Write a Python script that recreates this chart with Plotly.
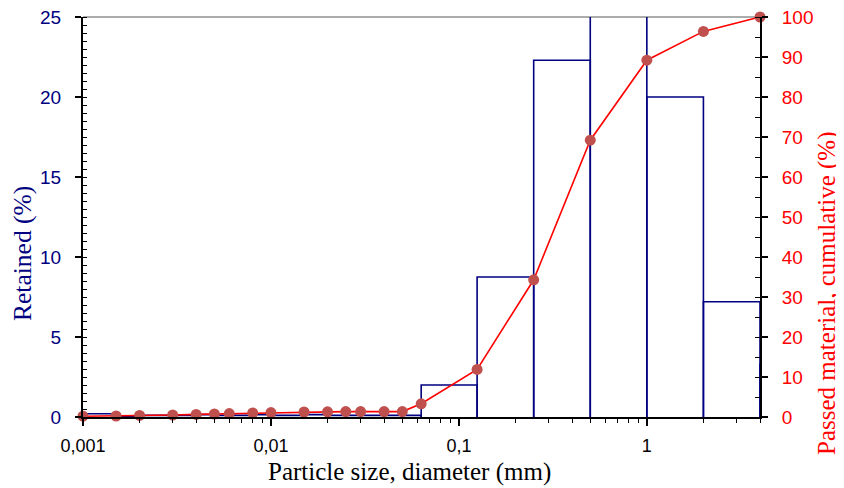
import math
import plotly.graph_objects as go

# ---- data ----
sieve_sizes = [0.001, 0.0015, 0.002, 0.003, 0.004, 0.005, 0.006, 0.008, 0.01, 0.015,
               0.02, 0.025, 0.03, 0.04, 0.05, 0.063, 0.125, 0.25, 0.5, 1, 2, 4]
bin_right = [0.0015, 0.002, 0.003, 0.004, 0.005, 0.006, 0.008, 0.01, 0.015, 0.02,
             0.025, 0.03, 0.04, 0.05, 0.063, 0.125, 0.25, 0.5, 1, 2, 4, 8]
retained = [0.2, 0.05, 0.1, 0.1, 0.15, 0.1, 0.1, 0.15, 0.1, 0.15,
            0.1, 0.1, 0.1, 0.1, 0.1, 2.0, 8.75, 22.3, 35.0, 20.0, 7.2, 3.3]
passed = [0.2, 0.25, 0.4, 0.5, 0.65, 0.75, 0.85, 1.0, 1.1, 1.25,
          1.3, 1.35, 1.35, 1.35, 1.35, 3.3, 11.9, 34.3, 69.2, 89.2, 96.4, 100]

x_tickvals = [0.001, 0.01, 0.1, 1]
x_ticktext = ["0,001", "0,01", "0,1", "1"]

NAVY = "#000080"
RED = "#FF0000"
SERIF = "Liberation Serif, Times New Roman, serif"
SANS = "Liberation Sans, Arial, sans-serif"

# histogram outline built from bin edges and heights
hx, hy = [], []
for l, r, h in zip(sieve_sizes, bin_right, retained):
    hx += [l, l, r, r, None]
    hy += [0, h, h, 0, None]

fig = go.Figure()
fig.add_trace(go.Scatter(x=hx, y=hy, mode="lines", line=dict(color=NAVY, width=1.6),
                         xaxis="x", yaxis="y", hoverinfo="skip", showlegend=False))
fig.add_trace(go.Scatter(x=sieve_sizes, y=passed, mode="lines+markers",
                         line=dict(color=RED, width=1.6),
                         marker=dict(color="#C0504D", size=11),
                         xaxis="x", yaxis="y2", showlegend=False, cliponaxis=False))

minor_x = []
for dec in [0.001, 0.01, 0.1, 1]:
    for k in range(2, 10):
        v = dec * k
        if v <= 4.0001:
            minor_x.append(v)

# page body adds an 8px offset; plot area targets x 83..760, y 17..417 in the window
fig.update_layout(
    width=836, height=480,
    margin=dict(l=75, r=84, t=9, b=71, autoexpand=False),
    plot_bgcolor="white", paper_bgcolor="white",
    xaxis=dict(type="log", range=[-3, math.log10(4)], tickvals=x_tickvals, ticktext=x_ticktext,
               ticks="outside", ticklen=7, tickwidth=1.5, tickcolor="black", automargin=False,
               showline=True, linecolor="black", linewidth=2, showgrid=False, zeroline=False,
               tickfont=dict(family=SANS, size=18, color="black"), ticklabelstandoff=4,
               ticklabeloverflow="allow",
               minor=dict(ticks="outside", ticklen=4, tickwidth=1, tickcolor="black", tickvals=minor_x,
                          showgrid=False)),
    yaxis=dict(range=[0, 25], dtick=5, ticks="outside", ticklen=6, tickwidth=1.5, tickcolor="black",
               showline=True, linecolor="black", linewidth=2, showgrid=False, zeroline=False,
               automargin=False, ticklabeloverflow="allow",
               tickfont=dict(family=SANS, size=19, color=NAVY), ticklabelstandoff=10,
               minor=dict(ticks="inside", ticklen=4, tickwidth=1, tickcolor="black", dtick=0.5,
                          showgrid=False)),
    yaxis2=dict(range=[0, 100], dtick=10, overlaying="y", side="right", anchor="x",
                ticks="outside", ticklen=6, tickwidth=1.5, tickcolor="black", automargin=False,
                showline=True, linecolor="black", linewidth=2, showgrid=False, zeroline=False,
                ticklabeloverflow="allow",
                tickfont=dict(family=SANS, size=19, color=RED), ticklabelstandoff=10,
                minor=dict(ticks="inside", ticklen=5, tickwidth=1, tickcolor="black", dtick=5,
                           showgrid=False)),
    yaxis3=dict(range=[0, 25], dtick=5, overlaying="y", side="left", anchor="x", automargin=False,
                ticks="inside", ticklen=4, tickwidth=1.5, tickcolor="black",
                showticklabels=False, showline=False, showgrid=False, zeroline=False),
    yaxis4=dict(range=[0, 100], dtick=10, overlaying="y", side="right", anchor="x", automargin=False,
                ticks="inside", ticklen=5, tickwidth=1.5, tickcolor="black",
                showticklabels=False, showline=False, showgrid=False, zeroline=False),
    shapes=[dict(type="line", xref="paper", yref="paper", x0=0, x1=1, y0=1, y1=1,
                 line=dict(color="#909090", width=1.5), layer="below")],
    annotations=[
        dict(text="Particle size, diameter (mm)", xref="paper", yref="paper",
             x=(409 - 83) / 677, y=(417 - 472) / 400, showarrow=False,
             font=dict(family=SERIF, size=25, color="black"), xanchor="center", yanchor="middle"),
        dict(text="Retained (%)", xref="paper", yref="paper",
             x=(22 - 83) / 677, y=(417 - 254) / 400, showarrow=False, textangle=-90,
             font=dict(family=SERIF, size=25.5, color=NAVY), xanchor="center", yanchor="middle"),
        dict(text="Passed material, cumulative (%)", xref="paper", yref="paper",
             x=(827 - 83) / 677, y=(417 - 293) / 400, showarrow=False, textangle=-90,
             font=dict(family=SERIF, size=25, color=RED), xanchor="center", yanchor="middle"),
    ],
)

fig.write_html("out.html")
